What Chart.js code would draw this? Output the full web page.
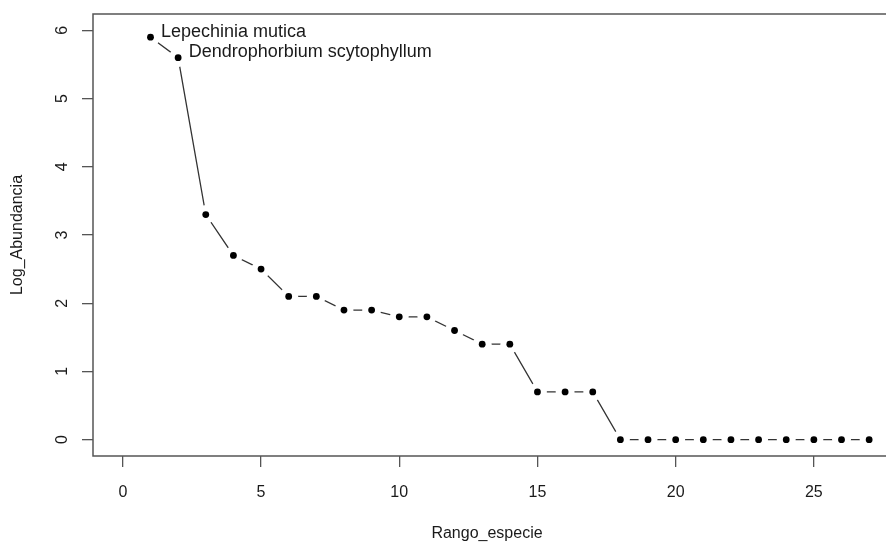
<!DOCTYPE html>
<html>
<head>
<meta charset="utf-8">
<script src="https://cdn.jsdelivr.net/npm/chart.js@4"></script>
<style>
  html, body { margin: 0; padding: 0; background: #fff; overflow: hidden; }
  #wrap { width: 886px; height: 542px; overflow: hidden; }
</style>
</head>
<body>
<div id="wrap"><canvas id="rank-chart" width="900" height="542"></canvas></div>
<script>
// species rank vs log abundance
const rangos = [1, 2, 3, 4, 5, 6, 7, 8, 9, 10, 11, 12, 13, 14, 15, 16, 17, 18, 19, 20, 21, 22, 23, 24, 25, 26, 27];
const logAbundancia = [5.9, 5.6, 3.3, 2.7, 2.5, 2.1, 2.1, 1.9, 1.9, 1.8, 1.8, 1.6, 1.4, 1.4, 0.7, 0.7, 0.7, 0, 0, 0, 0, 0, 0, 0, 0, 0, 0];
const etiquetas = ["Lepechinia mutica", "Dendrophorbium scytophyllum"];
const xTicks = [0, 5, 10, 15, 20, 25];
const yTicks = [0, 1, 2, 3, 4, 5, 6];

const puntos = rangos.map((r, i) => ({ x: r, y: logAbundancia[i] }));
const textColor = "#1a1a1a";
const axisColor = "#555";
const font = "16px 'Liberation Sans', Arial, sans-serif";

// box around plot, tick labels, axis titles and point labels
const rPlot = {
    id: "rPlot",
    afterDatasetsDraw(chart) {
        const ctx = chart.ctx;
        const a = chart.chartArea;
        const xs = chart.scales.x;
        const ys = chart.scales.y;
        ctx.save();
        ctx.strokeStyle = axisColor;
        ctx.lineWidth = 1.5;
        ctx.strokeRect(a.left, a.top, a.right - a.left, a.bottom - a.top);

        ctx.fillStyle = textColor;
        ctx.font = font;
        ctx.textAlign = "center";
        ctx.textBaseline = "alphabetic";
        xTicks.forEach(v => ctx.fillText(String(v), xs.getPixelForValue(v), 497));

        yTicks.forEach(v => {
            ctx.save();
            ctx.translate(67, ys.getPixelForValue(v));
            ctx.rotate(-Math.PI / 2);
            ctx.fillText(String(v), 0, 0);
            ctx.restore();
        });

        ctx.fillText("Rango_especie", 487, 538);
        ctx.save();
        ctx.translate(22, (a.top + a.bottom) / 2);
        ctx.rotate(-Math.PI / 2);
        ctx.fillText("Log_Abundancia", 0, 0);
        ctx.restore();

        ctx.textAlign = "left";
        ctx.font = "18px 'Liberation Sans', Arial, sans-serif";
        etiquetas.forEach((t, i) => {
            const px = xs.getPixelForValue(rangos[i]);
            const py = ys.getPixelForValue(logAbundancia[i]);
            ctx.fillText(t, px + 10.5, py - 0.5);
        });
        ctx.restore();
    }
};

new Chart(document.getElementById("rank-chart"), {
    type: "line",
    data: {
        datasets: [
            {
                // points only
                data: puntos,
                showLine: false,
                pointRadius: 3.4,
                pointBackgroundColor: "#000",
                pointBorderWidth: 0,
                order: 1
            },
            {
                // connecting line, white discs open gaps around points (R type = "b")
                data: puntos,
                borderColor: "#333",
                borderWidth: 1.3,
                pointRadius: 9.5,
                pointBackgroundColor: "#fff",
                pointBorderWidth: 0,
                tension: 0,
                order: 2
            }
        ]
    },
    options: {
        responsive: false,
        animation: false,
        events: [],
        layout: { autoPadding: false, padding: { top: 14, right: 1, left: 0, bottom: 0 } },
        plugins: { legend: { display: false }, tooltip: { enabled: false } },
        scales: {
            x: {
                type: "linear",
                min: -1.08,
                max: 28.08,
                afterBuildTicks: s => { s.ticks = xTicks.map(v => ({ value: v })); },
                afterFit: s => { s.height = 86; },
                ticks: { display: false },
                grid: { drawOnChartArea: false, drawTicks: true, tickLength: 11, color: axisColor, lineWidth: 1.3 },
                border: { display: false }
            },
            y: {
                type: "linear",
                min: -0.24,
                max: 6.24,
                afterBuildTicks: s => { s.ticks = yTicks.map(v => ({ value: v })); },
                afterFit: s => { s.width = 93; },
                ticks: { display: false },
                grid: { drawOnChartArea: false, drawTicks: true, tickLength: 11, color: axisColor, lineWidth: 1.3 },
                border: { display: false }
            }
        }
    },
    plugins: [rPlot]
});
</script>
</body>
</html>
